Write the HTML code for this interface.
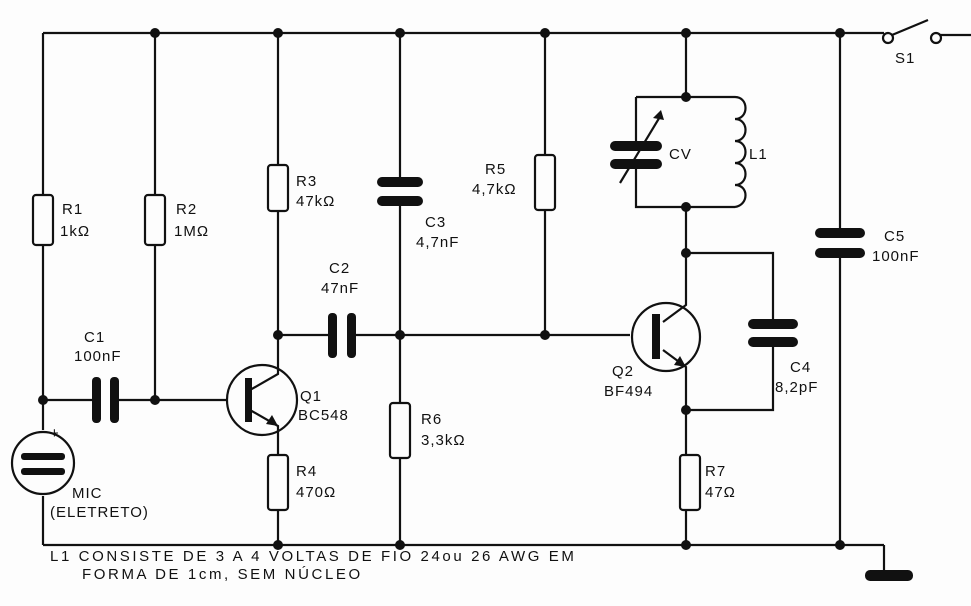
<!DOCTYPE html>
<html><head><style>
html,body{margin:0;padding:0;background:#fff;}
svg{display:block;}
text{font-family:"Liberation Sans",sans-serif;font-size:15px;fill:#111;letter-spacing:1px;}
</style></head><body>
<svg width="971" height="606" viewBox="0 0 971 606">
<rect width="971" height="606" fill="#fdfdfd"/>
<g stroke="#111" stroke-width="2.2" fill="none">
<path d="M43 33 H884 M940 35 H971"/>
<path d="M43 545 H884"/>
<circle cx="888" cy="38" r="5"/><circle cx="936" cy="38" r="5"/>
<path d="M892 35 L928 20"/>
<path d="M884 545 V575"/>
<path d="M43 33 V195 M43 245 V430 M43 496 V545"/>
<rect x="33" y="195" width="20" height="50" rx="3"/>
<circle cx="43" cy="463" r="31"/>
<path d="M155 33 V195 M155 245 V400"/>
<rect x="145" y="195" width="20" height="50" rx="3"/>
<path d="M43 400 H96 M115 400 H228"/>
<circle cx="262" cy="400" r="35"/>
<path d="M278 33 V165 M278 211 V374 L250 390 M250 410 L278 426 V455 M278 510 V545"/>
<rect x="268" y="165" width="20" height="46" rx="3"/>
<rect x="268" y="455" width="20" height="55" rx="3"/>
<path d="M278 335 H332 M352 335 H630"/>
<path d="M400 33 V180 M400 202 V403 M400 458 V545"/>
<rect x="390" y="403" width="20" height="55" rx="3"/>
<path d="M545 33 V155 M545 210 V335"/>
<rect x="535" y="155" width="20" height="55" rx="3"/>
<path d="M686 33 V97 M636 97 H735 M636 97 V145 M636 165 V207 H735 M686 207 V305 L663 322 M663 350 L686 367 V455 M686 510 V545"/>
<path d="M735 97 c14 0 14 22 0 22 c14 0 14 22 0 22 c14 0 14 22 0 22 c14 0 14 22 0 22 c14 0 14 20 0 22"/>
<path d="M620 183 L661 115"/>
<circle cx="666" cy="337" r="34"/>
<path d="M686 253 H773 V322 M773 343 V410 H686"/>
<rect x="680" y="455" width="20" height="55" rx="3"/>
<path d="M840 33 V232 M840 253 V545"/>
</g>
<g fill="#111" stroke="none">
<rect x="865" y="570" width="48" height="11" rx="5"/>
<rect x="92" y="377" width="9" height="46" rx="4"/><rect x="110" y="377" width="9" height="46" rx="4"/>
<rect x="328" y="313" width="9" height="45" rx="4"/><rect x="347" y="313" width="9" height="45" rx="4"/>
<rect x="377" y="177" width="46" height="10" rx="5"/><rect x="377" y="196" width="46" height="10" rx="5"/>
<rect x="610" y="141" width="52" height="10" rx="5"/><rect x="610" y="159" width="52" height="10" rx="5"/>
<rect x="748" y="319" width="50" height="10" rx="5"/><rect x="748" y="337" width="50" height="10" rx="5"/>
<rect x="815" y="228" width="50" height="10" rx="5"/><rect x="815" y="248" width="50" height="10" rx="5"/>
<rect x="21" y="453" width="44" height="7" rx="3"/><rect x="21" y="468" width="44" height="7" rx="3"/>
<rect x="245" y="378" width="7" height="44"/>
<rect x="652" y="314" width="8" height="45"/>
<polygon points="661,110 653,118 664,120"/>
<polygon points="278,426 266,424 272,415"/>
<polygon points="686,367 674,365 680,356"/>
<circle cx="155" cy="33" r="5"/><circle cx="278" cy="33" r="5"/><circle cx="400" cy="33" r="5"/>
<circle cx="545" cy="33" r="5"/><circle cx="686" cy="33" r="5"/><circle cx="840" cy="33" r="5"/>
<circle cx="43" cy="400" r="5"/><circle cx="155" cy="400" r="5"/><circle cx="278" cy="335" r="5"/>
<circle cx="400" cy="335" r="5"/><circle cx="545" cy="335" r="5"/>
<circle cx="686" cy="97" r="5"/><circle cx="686" cy="207" r="5"/><circle cx="686" cy="253" r="5"/><circle cx="686" cy="410" r="5"/>
<circle cx="278" cy="545" r="5"/><circle cx="400" cy="545" r="5"/><circle cx="686" cy="545" r="5"/><circle cx="840" cy="545" r="5"/>
</g>
<text x="62" y="214">R1</text><text x="60" y="236">1kΩ</text>
<text x="176" y="214">R2</text><text x="174" y="236">1MΩ</text>
<text x="84" y="342">C1</text><text x="74" y="361">100nF</text>
<text x="50" y="438" font-size="18">+</text>
<text x="72" y="498">MIC</text><text x="50" y="517">(ELETRETO)</text>
<text x="296" y="186">R3</text><text x="296" y="206">47kΩ</text>
<text x="300" y="401">Q1</text><text x="298" y="420">BC548</text>
<text x="296" y="476">R4</text><text x="296" y="497">470Ω</text>
<text x="329" y="273">C2</text><text x="321" y="293">47nF</text>
<text x="425" y="227">C3</text><text x="416" y="247">4,7nF</text>
<text x="421" y="424">R6</text><text x="421" y="445">3,3kΩ</text>
<text x="485" y="174">R5</text><text x="472" y="194">4,7kΩ</text>
<text x="669" y="159">CV</text><text x="749" y="159">L1</text>
<text x="612" y="376">Q2</text><text x="604" y="396">BF494</text>
<text x="790" y="372">C4</text><text x="775" y="392">8,2pF</text>
<text x="884" y="241">C5</text><text x="872" y="261">100nF</text>
<text x="705" y="476">R7</text><text x="705" y="497">47Ω</text>
<text x="895" y="63">S1</text>
<text x="50" y="561" style="letter-spacing:2.6px">L1 CONSISTE DE 3 A 4 VOLTAS DE FIO 24ou 26 AWG EM</text>
<text x="82" y="579" style="letter-spacing:2.6px">FORMA  DE 1cm, SEM NÚCLEO</text>
</svg>
</body></html>
